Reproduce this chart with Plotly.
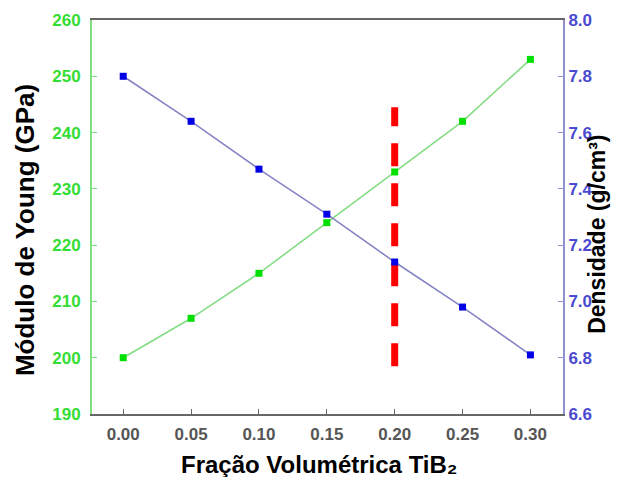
import plotly.graph_objects as go

fracao = [0.00, 0.05, 0.10, 0.15, 0.20, 0.25, 0.30]
modulo_young = [200, 207, 215, 224, 233, 242, 253]
densidade = [7.80, 7.64, 7.47, 7.31, 7.14, 6.98, 6.81]
linha_x = [0.20, 0.20]
linha_y = [198.5, 244.5]
x_ticks = ["0.00", "0.05", "0.10", "0.15", "0.20", "0.25", "0.30"]

fig = go.Figure()
fig.add_trace(go.Scatter(x=fracao, y=modulo_young, mode="lines+markers",
                         line=dict(color="#86dc86", width=1.6),
                         marker=dict(symbol="square", size=7, color="#00e000"),
                         yaxis="y", showlegend=False))
fig.add_trace(go.Scatter(x=fracao, y=densidade, mode="lines+markers",
                         line=dict(color="#8585c4", width=1.6),
                         marker=dict(symbol="square", size=7, color="#0000e6"),
                         yaxis="y2", showlegend=False))
fig.add_trace(go.Scatter(x=linha_x, y=linha_y, mode="lines",
                         line=dict(color="#ff0000", width=7, dash="23px,17px"),
                         yaxis="y", showlegend=False))

fam = "Liberation Sans, Arial, sans-serif"
ltitle_font = dict(size=26, color="black", family=fam, weight="bold")
rtitle_font = dict(size=23, color="black", family=fam, weight="bold")
xtitle_font = dict(size=24, color="black", family=fam, weight="bold")

# page body has an 8px margin, so the margins are shifted by 8px
fig.update_layout(
    width=621, height=477,
    margin=dict(l=84, r=66, t=12, b=71),
    paper_bgcolor="white", plot_bgcolor="white",
    font=dict(family=fam),
    xaxis=dict(range=[-0.023, 0.324], tickvals=fracao, ticktext=x_ticks,
               automargin=False,
               showgrid=False, zeroline=False, showline=True, linecolor="#666666",
               linewidth=2, mirror=True, ticks="inside", ticklen=5, tickcolor="#666666",
               ticklabelstandoff=4,
               tickfont=dict(size=17, color="#555555", weight="bold")),
    yaxis=dict(range=[190, 260], dtick=10, showgrid=False, zeroline=False,
               automargin=False,
               showline=True, linecolor="#7ee07e", linewidth=2,
               ticks="inside", ticklen=5, tickcolor="#7ee07e",
               ticklabelstandoff=6,
               tickfont=dict(size=17, color="#33dd33", weight="bold")),
    yaxis2=dict(range=[6.6, 8.0], dtick=0.2, tickformat=".1f", overlaying="y", side="right",
                automargin=False,
                showgrid=False, zeroline=False, showline=True, linecolor="#9090d0",
                linewidth=2, ticks="inside", ticklen=5, tickcolor="#9090d0",
                tickfont=dict(size=17, color="#4a4ad0", weight="bold")),
    annotations=[
        dict(text="Fração Volumétrica TiB₂", xref="paper", yref="paper",
             x=0.482, y=-0.128, xanchor="center", yanchor="middle", showarrow=False,
             font=xtitle_font),
        dict(text="Módulo de Young (GPa)", xref="paper", yref="paper",
             x=-0.142, y=0.467, xanchor="center", yanchor="middle", showarrow=False,
             textangle=-90, font=ltitle_font),
        dict(text="Densidade (g/cm³)", xref="paper", yref="paper",
             x=1.072, y=0.457, xanchor="center", yanchor="middle", showarrow=False,
             textangle=-90, font=rtitle_font),
    ],
)

fig.write_html("out.html")
